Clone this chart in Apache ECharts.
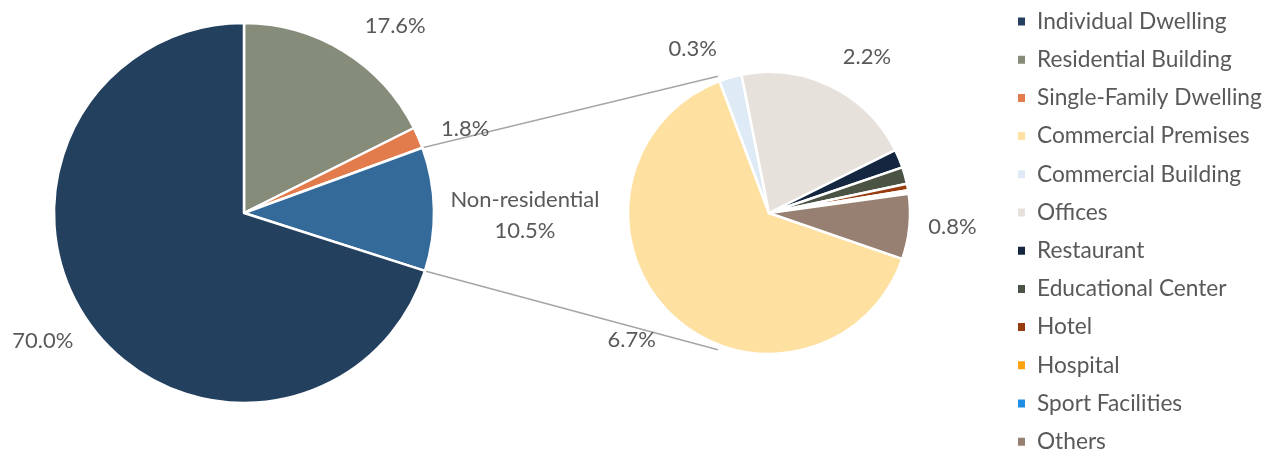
<!DOCTYPE html>
<html>
<head>
<meta charset="utf-8">
<script src="https://cdn.jsdelivr.net/npm/echarts@6/dist/echarts.min.js"></script>
<style>
  html, body { margin: 0; padding: 0; background: #fff; }
  #main { width: 1266px; height: 449px; }
</style>
</head>
<body>
<div id="main"></div>
<script>
// main pie (share of total, %)
const mainNames = ['Residential Building', 'Single-Family Dwelling', 'Non-residential', 'Individual Dwelling'];
const mainValues = [17.6, 1.8, 10.5, 70.0];
const mainColors = ['#868c7a', '#e27c4c', '#346a9a', '#23405f'];

// breakdown of non-residential (share of total, %)
const subNames = ['Commercial Premises', 'Commercial Building', 'Offices', 'Restaurant', 'Educational Center',
  'Hotel', 'Hospital', 'Sport Facilities', 'Others'];
const subValues = [6.69, 0.27, 2.17, 0.22, 0.2, 0.08, 0.02, 0.02, 0.78];
const subColors = ['#fee0a0', '#deebf7', '#e7e1dc', '#142640', '#4a5344', '#983c10', '#fea20f', '#1f8ee5', '#978072'];
const subLabelled = [true, true, true, false, false, false, false, false, true];

const legendOrder = ['Individual Dwelling', 'Residential Building', 'Single-Family Dwelling', 'Commercial Premises',
  'Commercial Building', 'Offices', 'Restaurant', 'Educational Center', 'Hotel', 'Hospital', 'Sport Facilities', 'Others'];

const FONT = 'Lato';
const TXT = '#595959';

// layout
const c1 = [244, 213], r1 = 190;
const c2 = [769, 213], r2 = 141;
const subStart = 341; // degrees, echarts convention
const subLabelLen = [34, 31, 33, 20, 20, 20, 20, 20, 14];
// small label nudges (excel centres its labels, echarts aligns them to the side)
const mainNudge = [[0, 0], [-10, 3], [56, 7], [12, -2]];
const subNudge = [[14, 2], [0, 1], [-8, 0], [0, 0], [0, 0], [0, 0], [0, 0], [0, 0], [0, -1]];

const pct = v => v.toFixed(1) + '%';

// connector lines: from edges of the non-residential slice to the top/bottom of the second pie
const total1 = mainValues.reduce((a, b) => a + b, 0);
const nrIdx = mainNames.indexOf('Non-residential');
let before = 0;
for (let i = 0; i < nrIdx; i++) before += mainValues[i];
const a0 = before / total1 * 2 * Math.PI;                 // clockwise from 12 o'clock
const a1 = (before + mainValues[nrIdx]) / total1 * 2 * Math.PI;
const p0 = [c1[0] + r1 * Math.sin(a0), c1[1] - r1 * Math.cos(a0)];
const p1 = [c1[0] + r1 * Math.sin(a1), c1[1] - r1 * Math.cos(a1)];
const tilt = 20.5 * Math.PI / 180, rr = r2 + 5;
const q0 = [c2[0] - rr * Math.sin(tilt), c2[1] - rr * Math.cos(tilt)];
const q1 = [c2[0] - rr * Math.sin(tilt), c2[1] + rr * Math.cos(tilt)];

let myChart = echarts.init(document.getElementById('main'));
let option = {
  animation: false,
  color: mainColors.concat(subColors),
  legend: {
    orient: 'vertical',
    left: 1011,
    top: 5,
    height: 600,
    data: legendOrder,
    itemWidth: 9,
    itemHeight: 10,
    itemGap: 15.2,
    icon: 'rect',
    textStyle: { fontFamily: FONT, fontSize: 22.7, color: TXT, lineHeight: 23, padding: [0, 0, 0, 6] }
  },
  graphic: [
    { type: 'line', shape: { x1: p0[0], y1: p0[1], x2: q0[0], y2: q0[1] }, style: { stroke: '#a6a6a6', lineWidth: 1.5 }, z: 0 },
    { type: 'line', shape: { x1: p1[0], y1: p1[1], x2: q1[0], y2: q1[1] }, style: { stroke: '#a6a6a6', lineWidth: 1.5 }, z: 0 }
  ],
  series: [
    {
      type: 'pie',
      center: c1,
      radius: r1,
      startAngle: 90,
      clockwise: true,
      avoidLabelOverlap: false,
      itemStyle: { borderColor: '#fff', borderWidth: 2.5 },
      label: {
        position: 'outside',
        fontFamily: FONT, fontSize: 22, color: TXT,
        formatter: p => p.name === 'Non-residential' ? 'Non-residential\n' + pct(p.value) : pct(p.value)
      },
      labelLine: { show: false, length: 30, length2: 0 },
      labelLayout: p => {
        const n = mainNudge[p.dataIndex];
        return p.dataIndex === nrIdx ? { dx: n[0], dy: n[1], align: 'center' } : { dx: n[0], dy: n[1] };
      },
      data: mainNames.map((n, i) => ({
        name: n, value: mainValues[i], itemStyle: { color: mainColors[i] },
        label: n === 'Non-residential' ? { lineHeight: 31, align: 'center' } : {}
      }))
    },
    {
      type: 'pie',
      center: c2,
      radius: r2,
      startAngle: subStart,
      clockwise: true,
      avoidLabelOverlap: false,
      itemStyle: { borderColor: '#fff', borderWidth: 2.5 },
      label: {
        position: 'outside',
        fontFamily: FONT, fontSize: 22, color: TXT,
        formatter: p => pct(p.value)
      },
      labelLine: { show: false, length: 22, length2: 0 },
      labelLayout: p => ({ dx: subNudge[p.dataIndex][0], dy: subNudge[p.dataIndex][1] }),
      data: subNames.map((n, i) => ({
        name: n, value: subValues[i], itemStyle: { color: subColors[i] },
        label: { show: subLabelled[i] },
        labelLine: { show: false, length: subLabelLen[i], length2: 0 }
      }))
    }
  ]
};
myChart.setOption(option);
</script>
</body>
</html>
